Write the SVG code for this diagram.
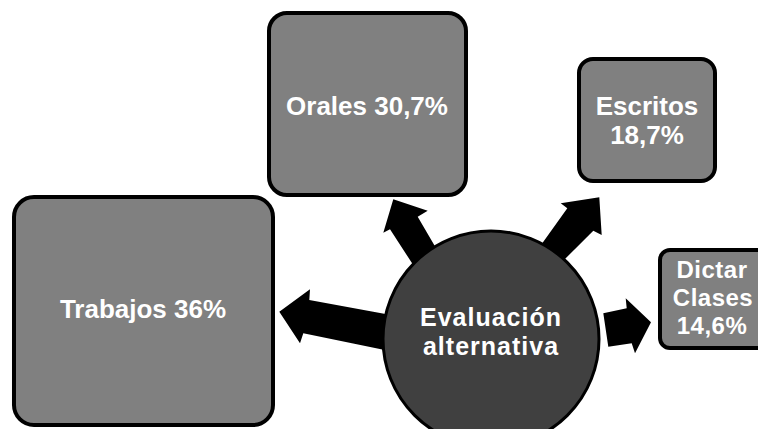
<svg xmlns="http://www.w3.org/2000/svg" width="758" height="429" viewBox="0 0 758 429">
<style>
.box{fill:#808080;stroke:#000;stroke-width:4}
.hub{fill:#404040;stroke:#000;stroke-width:3}
.arr{fill:#000;stroke:none}
text{font-family:"Liberation Sans",Arial,sans-serif;font-weight:bold;fill:#fff;text-anchor:middle}
.t{font-size:26px}
.d{font-size:24px;letter-spacing:0.5px}
.c{font-size:25px;letter-spacing:1px}
</style>
<rect width="758" height="429" fill="#fff"/>
<g id="connectors">
<polygon class="arr" points="279.3,311.7 310,289.3 309.3,300 395,315.8 392,351.6 303.3,333.3 300,343.3"/>
<polygon class="arr" points="393.3,199.3 427.7,210.7 417.7,216.7 438.6,252.4 413.4,265.3 390,229.3 383.3,232.7"/>
<polygon class="arr" points="599.3,197.3 601.7,235 593.3,230.7 557,267 536,252 567.3,208.3 560.7,203.3"/>
<polygon class="arr" points="651,322.3 635,353.3 631.7,343.3 608.3,346.7 603.3,313.3 626.7,308.3 625.7,298.3"/>
</g>
<g id="trabajos">
<rect class="box" x="14" y="197" width="259" height="228" rx="20"/>
<text class="t" x="143" y="318">Trabajos 36%</text>
</g>
<g id="orales">
<rect class="box" x="269" y="13" width="197" height="182" rx="18"/>
<text class="t" x="367" y="115">Orales 30,7%</text>
</g>
<g id="escritos">
<rect class="box" x="579" y="59" width="136" height="122" rx="14"/>
<text class="t" x="647" y="115">Escritos</text>
<text class="t" x="647" y="144">18,7%</text>
</g>
<g id="dictar">
<rect class="box" x="660" y="250" width="110" height="98" rx="10"/>
<text class="d" x="712" y="278">Dictar</text>
<text class="d" x="713" y="306">Clases</text>
<text class="d" x="712" y="334">14,6%</text>
</g>
<g id="evaluacion">
<circle class="hub" cx="491" cy="339" r="108"/>
<text class="c" x="491" y="326">Evaluación</text>
<text class="c" x="491" y="355">alternativa</text>
</g>
</svg>
